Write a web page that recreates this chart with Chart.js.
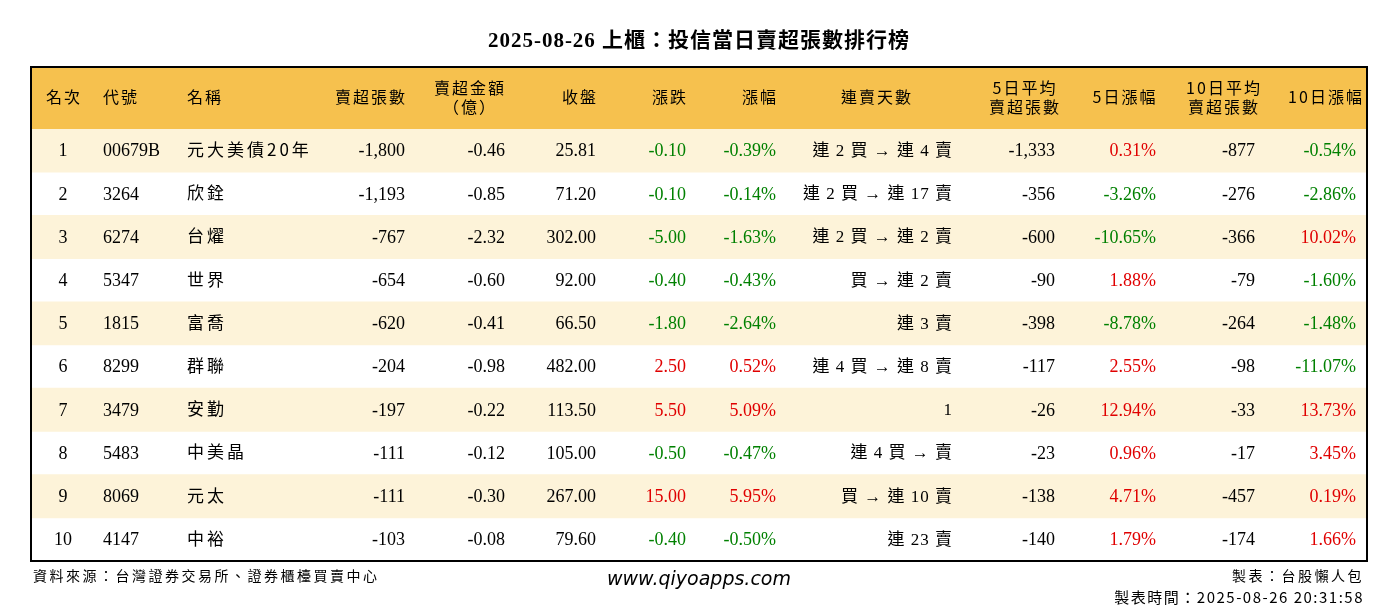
<!DOCTYPE html>
<html lang="zh-Hant">
<head>
  <meta charset="UTF-8" />
  <title>投信當日賣超張數排行榜</title>
  <script src="https://cdn.jsdelivr.net/npm/chart.js"></script>
  <style>
    html, body { margin: 0; padding: 0; background: #fff; }
    #wrap { width: 1398px; height: 612px; }
  </style>
</head>
<body>
  <div id="wrap"><canvas id="rankTable"></canvas></div>
  <script>
    const title = "2025-08-26 上櫃：投信當日賣超張數排行榜";
    const headers = ["名次", "代號", "名稱", "賣超張數", "賣超金額\n（億）", "收盤", "漲跌", "漲幅", "連賣天數", "5日平均\n賣超張數", "5日漲幅", "10日平均\n賣超張數", "10日漲幅"];
    const ranks = ["1", "2", "3", "4", "5", "6", "7", "8", "9", "10"];
    const codes = ["00679B", "3264", "6274", "5347", "1815", "8299", "3479", "5483", "8069", "4147"];
    const names = ["元大美債20年", "欣銓", "台燿", "世界", "富喬", "群聯", "安勤", "中美晶", "元太", "中裕"];
    const sellLots = ["-1,800", "-1,193", "-767", "-654", "-620", "-204", "-197", "-111", "-111", "-103"];
    const sellAmount = ["-0.46", "-0.85", "-2.32", "-0.60", "-0.41", "-0.98", "-0.22", "-0.12", "-0.30", "-0.08"];
    const closePrice = ["25.81", "71.20", "302.00", "92.00", "66.50", "482.00", "113.50", "105.00", "267.00", "79.60"];
    const change = ["-0.10", "-0.10", "-5.00", "-0.40", "-1.80", "2.50", "5.50", "-0.50", "15.00", "-0.40"];
    const changePct = ["-0.39%", "-0.14%", "-1.63%", "-0.43%", "-2.64%", "0.52%", "5.09%", "-0.47%", "5.95%", "-0.50%"];
    const streak = ["連 2 買 → 連 4 賣", "連 2 買 → 連 17 賣", "連 2 買 → 連 2 賣", "買 → 連 2 賣", "連 3 賣", "連 4 買 → 連 8 賣", "1", "連 4 買 → 賣", "買 → 連 10 賣", "連 23 賣"];
    const avg5 = ["-1,333", "-356", "-600", "-90", "-398", "-117", "-26", "-23", "-138", "-140"];
    const pct5 = ["0.31%", "-3.26%", "-10.65%", "1.88%", "-8.78%", "2.55%", "12.94%", "0.96%", "4.71%", "1.79%"];
    const avg10 = ["-877", "-276", "-366", "-79", "-264", "-98", "-33", "-17", "-457", "-174"];
    const pct10 = ["-0.54%", "-2.86%", "10.02%", "-1.60%", "-1.48%", "-11.07%", "13.73%", "3.45%", "0.19%", "1.66%"];

    const columns = [ranks, codes, names, sellLots, sellAmount, closePrice, change, changePct, streak, avg5, pct5, avg10, pct10];
    const colored = [6, 7, 10, 12];
    // x positions relative to table left edge, with alignment
    const colX = [32, 72, 156, 374, 474, 565, 655, 745, 922, 1024, 1125, 1224, 1325];
    const colAlign = ["center", "left", "left", "right", "right", "right", "right", "right", "right", "right", "right", "right", "right"];
    const headX = [32, 72, 156, 374, 438, 565, 655, 745, 845, 993, 1093, 1192, 1294];
    const headAlign = ["center", "left", "left", "right", "center", "right", "right", "right", "center", "center", "center", "center", "center"];

    const serif = '"Liberation Serif", "Noto Sans CJK TC", serif';
    const cjk = '"Noto Sans CJK TC", sans-serif';
    const HEADER_H = 62;

    const tablePlugin = {
      id: "tablePlugin",
      afterDatasetsDraw(chart) {
        const ctx = chart.ctx;
        const area = chart.chartArea;
        const y = chart.scales.y;
        ctx.save();
        // title
        ctx.fillStyle = "#000";
        ctx.textAlign = "center";
        ctx.textBaseline = "middle";
        ctx.font = "bold 21px " + serif;
        ctx.letterSpacing = "1px";
        ctx.fillText(title, 699, 42);
        // header
        ctx.fillStyle = "#F6C14E";
        ctx.fillRect(area.left, area.top - HEADER_H, area.right - area.left, HEADER_H);
        ctx.fillStyle = "#000";
        ctx.font = "16px " + cjk;
        ctx.letterSpacing = "2px";
        headers.forEach((h, i) => {
          const lines = h.split("\n");
          ctx.textAlign = headAlign[i];
          const cy = area.top - HEADER_H / 2 - 1;
          const dx = headAlign[i] === "right" ? 2 : (headAlign[i] === "center" ? 1 : 0);
          lines.forEach((ln, k) => {
            ctx.fillText(ln, area.left + headX[i] + dx, cy + (k - (lines.length - 1) / 2) * 19);
          });
        });
        // cells
        ranks.forEach((r, row) => {
          const cy = y.getPixelForValue(row);
          columns.forEach((col, c) => {
            const txt = col[row];
            ctx.textAlign = colAlign[c];
            ctx.letterSpacing = "0px";
            let off = 1;
            if (c === 2) { ctx.font = "17px " + cjk; ctx.letterSpacing = "3px"; off = -1; }
            else if (c === 8) { ctx.font = "17px " + serif; ctx.letterSpacing = "1px"; }
            else ctx.font = "18px " + serif;
            ctx.fillStyle = colored.includes(c) ? (txt.startsWith("-") ? "#008000" : "#E00000") : "#000";
            ctx.fillText(txt, area.left + colX[c], cy + off);
          });
        });
        // border
        ctx.strokeStyle = "#000";
        ctx.lineWidth = 2;
        ctx.strokeRect(area.left, area.top - HEADER_H, area.right - area.left, area.bottom - area.top + HEADER_H);
        // footer
        ctx.fillStyle = "#000";
        ctx.textAlign = "left";
        ctx.font = "14px " + cjk;
        ctx.letterSpacing = "2.5px";
        ctx.fillText("資料來源：台灣證券交易所、證券櫃檯買賣中心", 33, 576);
        ctx.textAlign = "right";
        ctx.fillText("製表：台股懶人包", 1364, 576);
        ctx.font = "15px " + cjk;
        ctx.letterSpacing = "1.5px";
        ctx.fillText("製表時間：2025-08-26 20:31:58", 1364, 597);
        ctx.textAlign = "center";
        ctx.letterSpacing = "0px";
        ctx.font = "italic 19px " + '"DejaVu Sans", sans-serif';
        ctx.fillText("www.qiyoapps.com", 699, 580);
        ctx.restore();
      }
    };

    new Chart(document.getElementById("rankTable"), {
      type: "bar",
      data: {
        labels: ranks,
        datasets: [{
          data: ranks.map((r, i) => (i % 2 === 0 ? [0, 1] : null)),
          backgroundColor: "#FDF3D9",
          barPercentage: 1,
          categoryPercentage: 1
        }]
      },
      options: {
        indexAxis: "y",
        responsive: true,
        maintainAspectRatio: false,
        animation: false,
        layout: { padding: { left: 31, right: 31, top: 129, bottom: 51 } },
        scales: {
          x: { type: "linear", min: 0, max: 1, display: false },
          y: { type: "category", display: false }
        },
        plugins: { legend: { display: false }, tooltip: { enabled: false } }
      },
      plugins: [tablePlugin]
    });
  </script>
</body>
</html>
